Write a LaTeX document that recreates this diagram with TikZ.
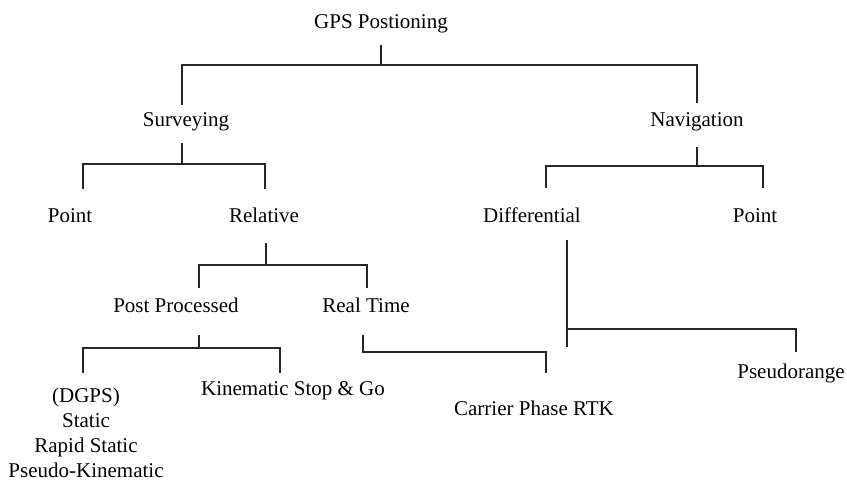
\documentclass[tikz,border=0pt]{standalone}
\usepackage{fontspec}
\setmainfont{Liberation Serif}
\begin{document}
\begin{tikzpicture}[x=1pt,y=-1pt,
  lbl/.style={inner sep=0pt,anchor=base,font=\fontsize{21}{25}\selectfont,align=center},
  conn/.style={line width=1.3pt,color=black!85}]
\path[use as bounding box] (0,0) rectangle (847,480);
% text nodes
\node[lbl] (gps) at (381,28) {GPS Postioning};
\node[lbl] (sur) at (186,126) {Surveying};
\node[lbl] (nav) at (697,126) {Navigation};
\node[lbl] (pointl) at (70,222) {Point};
\node[lbl] (rel) at (264,222) {Relative};
\node[lbl] (dif) at (532,222) {Differential};
\node[lbl] (pointr) at (755,222) {Point};
\node[lbl] (post) at (176,312) {Post Processed};
\node[lbl] (real) at (366,312) {Real Time};
\node[lbl] (dgps) at (86,477) {(DGPS)\\Static\\Rapid Static\\Pseudo-Kinematic};
\node[lbl] (kin) at (293,395) {Kinematic Stop \& Go};
\node[lbl] (cpr) at (534,415) {Carrier Phase RTK};
\node[lbl] (pse) at (791,378) {Pseudorange};
% connector end points
\coordinate (gpsA) at (381,45);
\coordinate (gpsJ) at (381,65);
\coordinate (surT) at (182,105);
\coordinate (navT) at (697,103);
\coordinate (surA) at (182,143);
\coordinate (surJ) at (182,164);
\coordinate (plT) at (83,189);
\coordinate (relT) at (265,189);
\coordinate (navA) at (697,147);
\coordinate (navJ) at (697,166);
\coordinate (difT) at (546,188);
\coordinate (prT) at (763,188);
\coordinate (relA) at (266,243);
\coordinate (relJ) at (266,265);
\coordinate (postT) at (199,288);
\coordinate (realT) at (367,288);
\coordinate (difA) at (567,240);
\coordinate (difJ) at (567,329);
\coordinate (difE) at (567,347);
\coordinate (pseT) at (796,352);
\coordinate (postA) at (199,335);
\coordinate (postJ) at (199,348);
\coordinate (dgpsT) at (83,373);
\coordinate (kinT) at (280,373);
\coordinate (realA) at (363,335);
\coordinate (cprT) at (546,373);
% connectors
\draw[conn] (gpsA) -- (gpsJ);
\draw[conn] (surT) |- (gpsJ) -| (navT);
\draw[conn] (surA) -- (surJ);
\draw[conn] (plT) |- (surJ) -| (relT);
\draw[conn] (navA) -- (navJ);
\draw[conn] (difT) |- (navJ) -| (prT);
\draw[conn] (relA) -- (relJ);
\draw[conn] (postT) |- (relJ) -| (realT);
\draw[conn] (difA) -- (difE);
\draw[conn] (difJ) -| (pseT);
\draw[conn] (postA) -- (postJ);
\draw[conn] (dgpsT) |- (postJ) -| (kinT);
\draw[conn] (realA) |- (cprT |- 0,352) -- (cprT);
\end{tikzpicture}
\end{document}
